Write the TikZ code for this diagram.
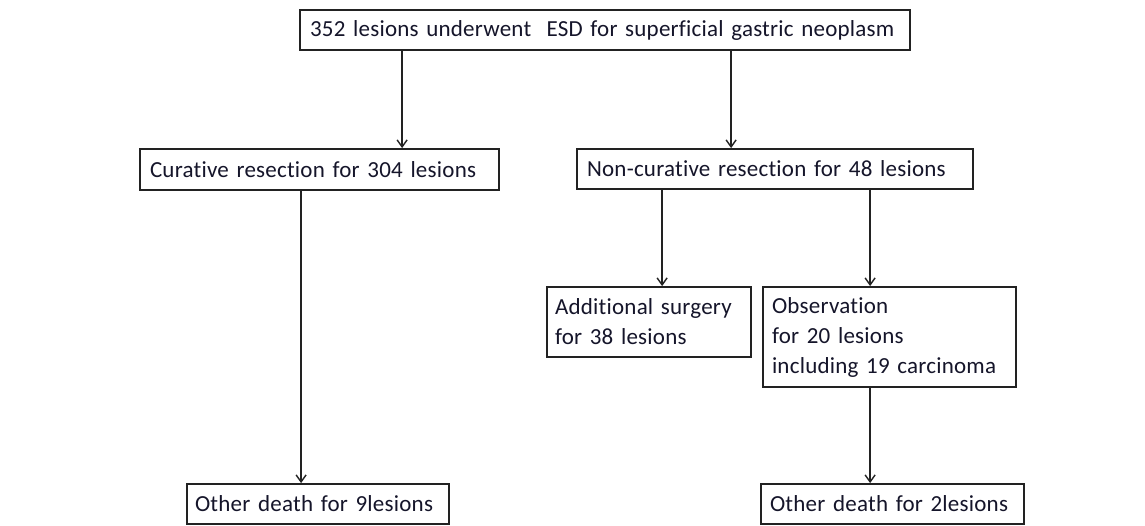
\documentclass[tikz,border=0pt]{standalone}
\usepackage{fontspec}
\setmainfont{Carlito}[Ligatures={NoCommon}]
\newfontfamily\boxfont{Carlito}[Ligatures={NoCommon},LetterSpace=1,WordSpace=0.85]
\usetikzlibrary{arrows.meta}
\definecolor{linec}{HTML}{222222}
\definecolor{textc}{HTML}{15152A}
\tikzset{
  box/.style={draw=linec, line width=1.8pt, rectangle, inner xsep=0pt, inner ysep=0pt,
    align=left, font=\boxfont\fontsize{23}{30}\selectfont, text=textc},
  arr/.style={draw=linec, line width=1.7pt, -{Straight Barb[length=7pt,width=10pt,line width=1.4pt]}}
}
\begin{document}
\begin{tikzpicture}[x=1pt,y=-1pt]
\useasboundingbox[fill=white] (0,0) rectangle (1145,526);
\node[box, minimum width=610pt, minimum height=40pt, text width=590pt] (top) at (605,30) {352 lesions underwent~~ESD for superficial gastric neoplasm};
\node[box, minimum width=359pt, minimum height=41pt, text width=339pt] (cur) at (319.5,169.5) {Curative resection for 304 lesions};
\node[box, minimum width=396pt, minimum height=40pt, text width=376pt] (non) at (775,169) {Non-curative resection for 48 lesions};
\node[box, minimum width=204pt, minimum height=70pt, text width=188pt] (add) at (649,322) {Additional surgery\\for 38 lesions};
\node[box, minimum width=253pt, minimum height=100pt, text width=235pt] (obs) at (889.5,337) {Observation\\for 20 lesions\\including 19 carcinoma};
\node[box, minimum width=262pt, minimum height=40pt, text width=246pt] (od9) at (318,504) {Other death for 9lesions};
\node[box, minimum width=263pt, minimum height=40pt, text width=245pt] (od2) at (892.5,504) {Other death for 2lesions};

\draw[arr] ([xshift=103pt]top.south west) -- ([xshift=263pt]cur.north west);
\draw[arr] ([xshift=432pt]top.south west) -- ([xshift=155pt]non.north west);
\draw[arr] ([xshift=162pt]cur.south west) -- ([xshift=115pt]od9.north west);
\draw[arr] ([xshift=86pt]non.south west) -- ([xshift=116pt]add.north west);
\draw[arr] ([xshift=294pt]non.south west) -- ([xshift=108pt]obs.north west);
\draw[arr] ([xshift=108pt]obs.south west) -- ([xshift=110pt]od2.north west);
\end{tikzpicture}
\end{document}
